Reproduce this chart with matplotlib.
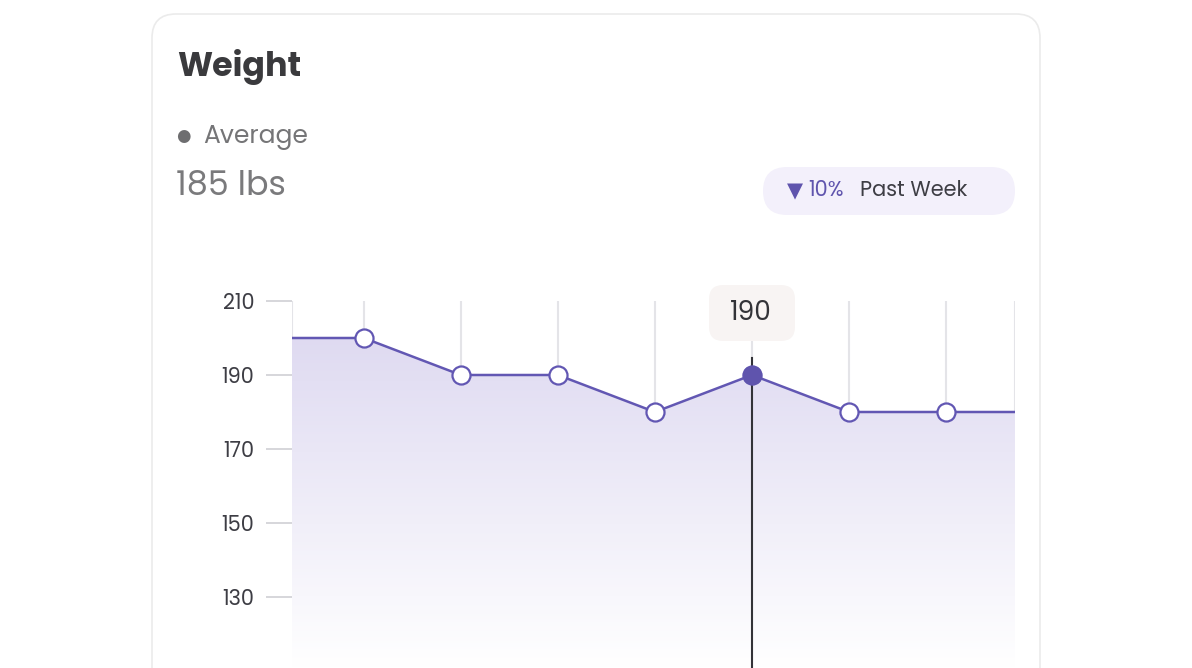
import matplotlib
matplotlib.use("Agg")
import matplotlib.pyplot as plt
import numpy as np
from matplotlib.patches import FancyBboxPatch, Polygon

plt.rcParams['font.family'] = ['Poppins', 'Lato', 'DejaVu Sans']

x_idx = [-1, 0, 1, 2, 3, 4, 5, 6, 7]
weights = [200, 200, 190, 190, 180, 190, 180, 180, 180]
yticks = [130, 150, 170, 190, 210]
highlight = 4

W, H = 1192, 668
fig = plt.figure(figsize=(W/100, H/100), dpi=100)
fig.patch.set_facecolor('white')
inch = fig.dpi_scale_trans

def pbox(x, y_top, w, h, r, **kw):
    # pixel coords (y from top) -> inches
    p = FancyBboxPatch((x/100, (H - y_top - h)/100), w/100, h/100,
                       boxstyle=f"round,pad=0,rounding_size={r/100}", transform=inch, **kw)
    fig.patches.append(p)
    return p

pbox(152, 14, 888, 720, 24, facecolor='white', edgecolor='#ebebeb', lw=1.2, zorder=-10)

fig.text(177/W, 1-67/H, "Weight", fontsize=24, fontweight='bold', color='#3a3a3d', va='center')
fig.text(183/W, 1-136/H, "●", fontsize=12, color='#6e6e70', va='center', ha='center',
         family='DejaVu Sans')
fig.text(203/W, 1-137/H, "Average", fontsize=18, color='#757577', va='center')
fig.text(176/W, 1-187/H, "185 lbs", fontsize=24, color='#7a7a7c', va='center')
pbox(763, 167, 252, 48, 24, facecolor='#f3f0fb', edgecolor='none', zorder=-5)
fig.text(795/W, 1-191/H, "▼", fontsize=15, color='#5f54ad', va='center', ha='center',
         family='DejaVu Sans')
fig.text(808/W, 1-191/H, "10%", fontsize=15, color='#5f54ad', va='center')
fig.text(860/W, 1-191/H, "Past Week", fontsize=15, color='#3d3d44', va='center')

ax = fig.add_axes([292/W, 0, (1015-292)/W, (668-301)/H])
ax.set_zorder(2)
x0, x1 = -0.74, 6.71
ylo = 210 - (668-301)/74*20
ax.set_xlim(x0, x1)
ax.set_ylim(ylo, 210)
for s in ax.spines.values():
    s.set_visible(False)
ax.set_xticks([])
ax.set_yticks(yticks)
ax.set_yticklabels([str(v) for v in yticks], fontsize=15, color='#3d3d44')
ax.tick_params(axis='y', length=19, color='#d0d0d4', width=1.2, pad=8)
ax.set_facecolor('none')

for i in range(0, 7):
    ax.axvline(i, color='#e4e4e8', lw=1.5, zorder=0)
ax.axvline(x1, color='#e4e4e8', lw=1.5, zorder=0)
ax.axvline(x0, color='#e4e4e8', lw=1.5, zorder=0)

grad = np.linspace(0, 1, 256).reshape(-1, 1)
c_top = np.array([0.86, 0.84, 0.94])
c_bot = np.array([1.0, 1.0, 1.0])
img = (c_bot + (c_top - c_bot) * grad).reshape(256, 1, 3)
im = ax.imshow(img, extent=[x0, x1, ylo, 210], origin='lower', aspect='auto', zorder=1)
poly = Polygon(list(zip(x_idx, weights)) + [(7, ylo), (-1, ylo)], closed=True,
               transform=ax.transData, facecolor='none', edgecolor='none')
ax.add_patch(poly)
im.set_clip_path(poly)
ax.set_xlim(x0, x1)
ax.set_ylim(ylo, 210)

ax.plot(x_idx, weights, color='#6257b3', lw=1.8, zorder=3)
ax.plot(x_idx[1:8], weights[1:8], 'o', ms=13, mfc='white', mec='#6257b3', mew=1.6, zorder=4)
ax.plot([highlight], [weights[highlight+1]], 'o', ms=13, mfc='#5f54ad', mec='#5f54ad', zorder=5, clip_on=False)
ax.plot([highlight, highlight], [ylo, 210 - (358-301)/74*20], color='#333338', lw=1.5, zorder=2)

pbox(709, 285, 86, 56, 14, facecolor='#f8f4f3', edgecolor='none', zorder=3)
fig.text(751/W, 1-314/H, "190", fontsize=19, color='#333338', ha='center', va='center', zorder=4)

fig.savefig("out.png", dpi=100)
